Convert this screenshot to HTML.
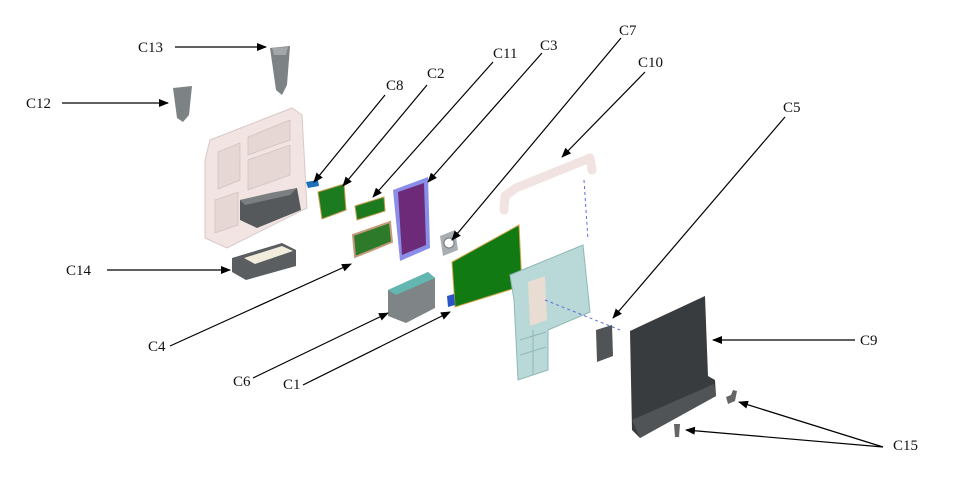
<!DOCTYPE html>
<html><head><meta charset="utf-8"><style>
html,body{margin:0;padding:0;background:#fff;width:966px;height:497px;overflow:hidden}
svg{display:block}
text{font-family:"Liberation Serif",serif;font-size:15px;fill:#111}
</style></head><body>
<svg width="966" height="497" viewBox="0 0 966 497">
<defs><marker id="a" markerWidth="10" markerHeight="8" refX="9" refY="4" orient="auto" markerUnits="userSpaceOnUse"><path d="M0,0 L10,4 L0,8 z" fill="#000"/></marker></defs>

<!-- C13 / C12 cones -->
<path d="M270,48 L290,46 L287,85 L282,95 L276,90 Z" fill="#7d8285"/>
<path d="M272,48 L288,47 L286,55 L274,55Z" fill="#a3a7aa"/>
<path d="M173,88 L192,86 L189,115 L183,122 L177,118 Z" fill="#7d8285"/>
<!-- housing -->
<path d="M210,140 L292,108 L302,115 L307,208 L227,248 L205,238 L205,160 Z" fill="#f1e4e2" stroke="#d9c8c6"/>
<path d="M218,152 L240,143 L240,180 L218,189Z M248,137 L290,120 L290,140 L248,155Z M248,160 L290,145 L290,175 L248,190Z M215,200 L238,192 L238,225 L215,233Z" fill="#e6d6d4" stroke="#cbb9b7" stroke-width="0.6"/>
<path d="M240,200 L297,188 L301,210 L257,228 L240,220 Z" fill="#55595c"/>
<path d="M240,200 L270,193 L297,188 L290,195 L245,205Z" fill="#7b7f82"/>
<!-- C14 -->
<path d="M232,258 L282,243 L296,250 L296,266 L246,280 L232,272 Z" fill="#5a5e61"/>
<path d="M244,258 L282,246 L293,251 L255,264Z" fill="#f1ecdc"/>
<!-- C8 C2 C11 C4 -->
<path d="M306,182 L318,180 L319,186 L308,188Z" fill="#1d6fb8"/>
<path d="M318,192 L344,184 L346,210 L322,219 Z" fill="#1c7a1f" stroke="#c49a4a"/>
<path d="M355,206 L384,197 L385,211 L357,220 Z" fill="#1c7a1f" stroke="#c49a4a"/>
<path d="M353,235 L390,222 L392,242 L355,257 Z" fill="#2d7a2a" stroke="#c49a7a" stroke-width="2"/>
<!-- C3 -->
<path d="M393,190 L428,177 L430,248 L400,261 Z" fill="#8a8ee8"/>
<path d="M398,192 L424,183 L426,245 L402,255 Z" fill="#6c2a78"/>
<!-- C7 -->
<path d="M440,236 L455,230 L458,250 L443,256 Z" fill="#a8aeb2"/>
<circle cx="449" cy="243" r="5" fill="#fff" stroke="#777"/>
<!-- C6 -->
<path d="M388,290 L428,272 L435,278 L435,308 L406,323 L388,316 Z" fill="#7f8487"/>
<path d="M388,290 L428,272 L435,278 L396,295Z" fill="#62b8b0"/>
<!-- C1 -->
<path d="M452,262 L519,225 L522,286 L455,307 Z" fill="#127a13" stroke="#d2a64a"/>
<path d="M447,296 L454,294 L455,305 L448,307Z" fill="#2a55c8"/>
<!-- C10 handle -->
<path d="M504,210 L505,196 L516,188 L590,158 L592,170" fill="none" stroke="#f0e3e1" stroke-width="9" stroke-linecap="round" stroke-linejoin="round"/>
<line x1="584" y1="180" x2="588" y2="240" stroke="#5c6ed6" stroke-dasharray="3,3"/>
<!-- frame -->
<path d="M510,275 L583,245 L590,312 L548,330 L548,370 L518,380 L514,300 Z" fill="#b9d9d8" stroke="#8fb8b6"/>
<path d="M528,282 L545,276 L547,320 L530,326Z" fill="#e9dcd2"/>
<path d="M520,340 L546,332 M520,355 L546,347 M533,330 L533,375" stroke="#8fb8b6" fill="none"/>
<line x1="545" y1="300" x2="620" y2="330" stroke="#5c6ed6" stroke-dasharray="3,3"/>
<!-- C5 -->
<path d="M596,330 L612,325 L613,356 L597,362 Z" fill="#505457"/>
<!-- C9 -->
<path d="M630,331 L705,296 L708,376 L715,380 L716,396 L640,438 L632,430 Z" fill="#383c3f"/>
<path d="M632,420 L714,384 L716,396 L640,438 Z" fill="#505457"/>
<!-- C15 clips -->
<path d="M726,397 L731,395 L733,390 L737,391 L735,401 L728,404Z" fill="#666"/>
<path d="M674,424 L680,424 L679,437 L675,437Z" fill="#666"/>

<!-- arrows -->
<g stroke="#000" stroke-width="1.2" marker-end="url(#a)">
<line x1="175" y1="47" x2="266" y2="47"/>
<line x1="62" y1="103" x2="168" y2="103"/>
<line x1="385" y1="95" x2="314" y2="182"/>
<line x1="427" y1="85" x2="343" y2="186"/>
<line x1="493" y1="62" x2="373" y2="197"/>
<line x1="542" y1="53" x2="428" y2="182"/>
<line x1="621" y1="38" x2="452" y2="240"/>
<line x1="645" y1="72" x2="562" y2="157"/>
<line x1="785" y1="117" x2="613" y2="318"/>
<line x1="855" y1="340" x2="713" y2="340"/>
<line x1="883" y1="447" x2="739" y2="402"/>
<line x1="883" y1="447" x2="686" y2="430"/>
<line x1="107" y1="270" x2="230" y2="270"/>
<line x1="170" y1="346" x2="351" y2="264"/>
<line x1="253" y1="378" x2="388" y2="313"/>
<line x1="303" y1="385" x2="450" y2="312"/>
</g>
<text x="138" y="52">C13</text>
<text x="26" y="108">C12</text>
<text x="386" y="90">C8</text>
<text x="427" y="78">C2</text>
<text x="493" y="58">C11</text>
<text x="540" y="50">C3</text>
<text x="619" y="35">C7</text>
<text x="638" y="67">C10</text>
<text x="783" y="112">C5</text>
<text x="860" y="345">C9</text>
<text x="893" y="450">C15</text>
<text x="66" y="275">C14</text>
<text x="148" y="351">C4</text>
<text x="233" y="386">C6</text>
<text x="283" y="389">C1</text>
</svg>
</body></html>
